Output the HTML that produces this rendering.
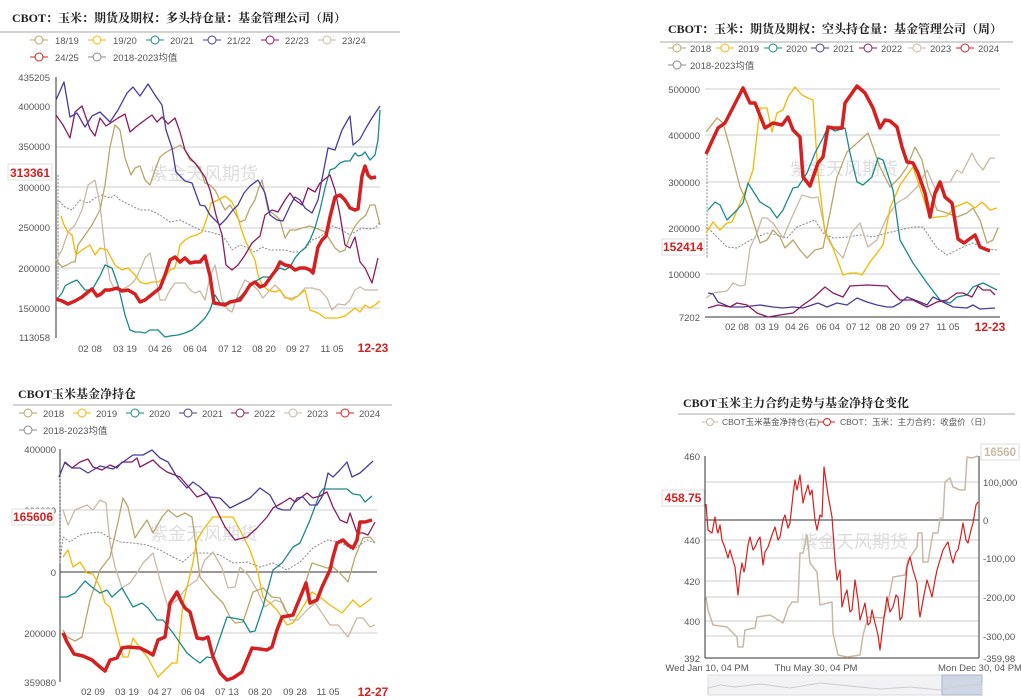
<!DOCTYPE html>
<html><head><meta charset="utf-8"><style>
html,body{margin:0;padding:0;background:#fff;}
svg{display:block;font-family:"Liberation Sans","Noto Sans CJK SC",sans-serif;}
.t{font-family:"Liberation Serif","Noto Serif CJK SC",serif;font-weight:bold;font-size:12px;fill:#222;}
.ax{font-size:9.5px;fill:#555;}
.lg{font-size:9.5px;fill:#555;}
.g{stroke:#ccc;stroke-width:1;}
.wm{font-size:18px;fill:#ddd;}
polyline{fill:none;stroke-linejoin:round;}
</style></head><body>
<svg width="1021" height="700" viewBox="0 0 1021 700">
<!-- ================= Chart 1 ================= -->
<text x="12" y="22" class="t">CBOT：玉米：期货及期权：多头持仓量：基金管理公司（周）</text>
<line x1="0" y1="32" x2="400" y2="32" stroke="#aaa"/>
<g class="lg">
<line x1="30" y1="40" x2="48" y2="40" stroke="#b8a66a"/><circle cx="39" cy="40" r="4" fill="#fff" stroke="#b8a66a"/><text x="55" y="44">18/19</text>
<line x1="88" y1="40" x2="106" y2="40" stroke="#f5b800"/><circle cx="97" cy="40" r="4" fill="#fff" stroke="#f5b800"/><text x="113" y="44">19/20</text>
<line x1="146" y1="40" x2="164" y2="40" stroke="#1a8a8a"/><circle cx="155" cy="40" r="4" fill="#fff" stroke="#1a8a8a"/><text x="170" y="44">20/21</text>
<line x1="203" y1="40" x2="221" y2="40" stroke="#4b3a9e"/><circle cx="212" cy="40" r="4" fill="#fff" stroke="#4b3a9e"/><text x="227" y="44">21/22</text>
<line x1="261" y1="40" x2="279" y2="40" stroke="#8b1a5e"/><circle cx="270" cy="40" r="4" fill="#fff" stroke="#8b1a5e"/><text x="285" y="44">22/23</text>
<line x1="318" y1="40" x2="336" y2="40" stroke="#c8b9a6"/><circle cx="327" cy="40" r="4" fill="#fff" stroke="#c8b9a6"/><text x="342" y="44">23/24</text>
<line x1="30" y1="57" x2="48" y2="57" stroke="#d42020"/><circle cx="39" cy="57" r="4" fill="#fff" stroke="#d42020"/><text x="55" y="61">24/25</text>
<line x1="88" y1="57" x2="106" y2="57" stroke="#888"/><circle cx="97" cy="57" r="4" fill="#fff" stroke="#888"/><text x="113" y="61">2018-2023均值</text>
</g>
<g class="g"><line x1="56" y1="147" x2="380" y2="147"/><line x1="56" y1="187" x2="380" y2="187"/><line x1="56" y1="228" x2="380" y2="228"/><line x1="56" y1="268" x2="380" y2="268"/><line x1="56" y1="308" x2="380" y2="308"/></g>
<line x1="56" y1="77" x2="56" y2="338" stroke="#333"/>
<g class="ax" text-anchor="end"><text x="50" y="81">435205</text><text x="50" y="110">400000</text><text x="50" y="150">350000</text><text x="50" y="191">300000</text><text x="50" y="231">250000</text><text x="50" y="272">200000</text><text x="50" y="312">150000</text><text x="50" y="341">113058</text></g>
<g class="ax" text-anchor="middle"><text x="90" y="352">02 08</text><text x="125" y="352">03 19</text><text x="160" y="352">04 26</text><text x="195" y="352">06 04</text><text x="230" y="352">07 12</text><text x="264" y="352">08 20</text><text x="298" y="352">09 27</text><text x="332" y="352">11 05</text></g>
<text x="373" y="352" text-anchor="middle" font-size="12" font-weight="bold" fill="#d42020">12-23</text>
<text x="150" y="180" class="wm">紫金天风期货</text>
<polyline stroke="#888" stroke-width="1" stroke-dasharray="2,1.5" points="58,175 58,290 58,200 65,207 72,210 80,200 88,203 95,198 102,195 110,198 115,195 120,200 130,205 140,210 150,210 160,215 170,222 180,220 190,225 200,230 210,232 220,235 226,240 232,250 240,245 248,248 255,252 262,247 270,250 278,250 285,250 292,252 300,252 306,248 312,240 318,238 325,233 332,226 338,228 345,232 350,235 355,232 362,228 370,229 375,228 380,222"/>
<polyline stroke="#c8b9a6" stroke-width="1.3" points="56,260 62,250 68,232 75,225 82,210 88,185 95,180 100,205 105,250 110,280 115,290 120,290 125,288 130,285 135,280 140,270 145,258 150,253 155,275 160,300 165,300 170,290 175,283 180,283 185,283 190,290 195,293 200,291 205,300 210,277 215,265 222,300 228,310 232,312 236,300 240,290 245,280 250,283 258,290 263,298 270,290 275,285 280,290 285,298 292,298 298,296 305,288 312,288 320,290 327,298 332,310 338,304 345,305 350,300 355,290 360,287 365,290 372,290 378,290"/>
<polyline stroke="#b8a66a" stroke-width="1.3" points="56,260 62,267 67,265 72,262 75,262 78,245 85,235 92,225 100,210 105,185 110,147 115,125 120,130 125,158 131,175 135,168 140,166 145,180 150,185 155,170 160,157 165,153 170,150 175,148 180,145 185,150 190,160 195,163 200,168 205,183 210,185 215,190 220,200 225,210 230,205 235,213 240,222 245,220 250,208 255,200 258,190 262,180 268,210 275,215 280,220 285,238 290,230 296,230 302,228 310,226 318,229 325,232 330,240 335,248 340,252 345,250 350,236 355,226 360,220 366,215 370,205 375,205 380,225"/>
<polyline stroke="#f5b800" stroke-width="1.3" points="61,216 64,225 68,232 72,235 76,255 82,250 90,245 95,255 100,248 107,250 115,265 122,270 128,268 135,275 140,282 146,284 152,282 158,282 165,277 170,270 175,268 180,245 185,240 190,237 197,235 202,232 207,218 211,203 218,200 225,196 232,202 236,210 240,225 245,240 250,250 255,260 258,275 262,285 268,290 275,292 280,290 285,297 292,300 298,296 305,290 310,310 318,313 325,318 330,318 338,318 345,316 350,312 355,308 360,312 365,305 370,308 375,305 380,301"/>
<polyline stroke="#1a8a8a" stroke-width="1.3" points="56,300 62,293 65,286 70,283 77,280 85,290 92,290 100,276 105,265 112,268 118,285 122,302 125,315 130,330 135,332 140,332 145,333 150,330 158,330 165,337 170,336 178,335 185,333 192,330 198,325 205,318 210,310 215,295 220,303 230,303 235,300 240,297 245,292 250,285 256,281 263,277 270,277 275,272 280,268 285,270 290,267 295,258 300,252 305,248 310,240 315,228 320,210 325,188 330,170 335,168 340,163 345,161 350,161 355,153 358,156 362,155 365,152 370,160 375,155 378,140 380,110"/>
<polyline stroke="#8b1a5e" stroke-width="1.3" points="56,115 63,125 70,138 75,112 82,106 90,129 95,136 100,118 106,126 112,122 118,118 125,114 130,132 137,126 145,120 152,115 157,122 162,117 168,124 175,118 180,132 185,150 190,158 195,163 200,170 205,177 210,190 216,215 222,235 226,265 232,270 238,265 245,255 252,243 260,236 265,215 272,210 278,212 285,200 290,193 295,200 302,205 308,188 315,192 320,183 330,175 335,190 340,215 345,245 350,248 355,237 360,262 365,268 372,283 378,258"/>
<polyline stroke="#4b3a9e" stroke-width="1.3" points="56,100 64,82 70,117 77,113 85,127 92,116 100,112 110,122 118,110 127,93 133,87 140,96 148,84 155,95 162,105 166,130 172,148 176,172 180,176 185,181 192,183 200,205 205,206 210,215 220,225 226,219 232,211 238,205 244,193 250,186 258,180 265,193 270,215 277,220 283,221 290,206 295,197 300,200 305,208 312,213 318,200 328,148 335,150 342,130 350,116 353,145 360,139 366,128 372,118 380,106"/>
<polyline stroke="#d42020" stroke-width="3.5" points="56,299 62,301 68,304 75,301 82,297 88,292 92,289 97,296 101,294 105,290 110,290 117,288 122,291 128,290 135,294 140,302 145,300 150,296 155,292 160,288 165,275 170,260 175,257 180,262 185,258 190,263 195,262 200,262 205,256 210,276 214,303 220,304 225,305 230,302 235,301 240,300 245,293 250,285 255,282 260,287 265,285 270,278 276,270 280,262 285,265 290,266 295,270 300,268 305,268 310,270 313,273 318,247 322,240 326,236 330,217 335,197 340,195 345,200 350,208 355,210 358,209 362,176 365,166 368,175 371,178 376,177"/>
<rect x="8" y="164" width="44" height="16" fill="#fff" stroke="#ddd"/>
<text x="30" y="177" text-anchor="middle" font-size="12" font-weight="bold" fill="#d42020">313361</text>

<!-- ================= Chart 2 ================= -->
<text x="668" y="33" class="t">CBOT：玉米：期货及期权：空头持仓量：基金管理公司（周）</text>
<line x1="660" y1="42" x2="1013" y2="42" stroke="#aaa"/>
<g class="lg">
<line x1="668" y1="48" x2="686" y2="48" stroke="#b8a66a"/><circle cx="677" cy="48" r="4" fill="#fff" stroke="#b8a66a"/><text x="690" y="52">2018</text>
<line x1="716" y1="48" x2="734" y2="48" stroke="#f5b800"/><circle cx="725" cy="48" r="4" fill="#fff" stroke="#f5b800"/><text x="738" y="52">2019</text>
<line x1="764" y1="48" x2="782" y2="48" stroke="#1a8a8a"/><circle cx="773" cy="48" r="4" fill="#fff" stroke="#1a8a8a"/><text x="786" y="52">2020</text>
<line x1="811" y1="48" x2="829" y2="48" stroke="#4b3a9e"/><circle cx="820" cy="48" r="4" fill="#fff" stroke="#4b3a9e"/><text x="833" y="52">2021</text>
<line x1="859" y1="48" x2="877" y2="48" stroke="#8b1a5e"/><circle cx="868" cy="48" r="4" fill="#fff" stroke="#8b1a5e"/><text x="881" y="52">2022</text>
<line x1="908" y1="48" x2="926" y2="48" stroke="#c8b9a6"/><circle cx="917" cy="48" r="4" fill="#fff" stroke="#c8b9a6"/><text x="930" y="52">2023</text>
<line x1="956" y1="48" x2="974" y2="48" stroke="#d42020"/><circle cx="965" cy="48" r="4" fill="#fff" stroke="#d42020"/><text x="978" y="52">2024</text>
<line x1="668" y1="65" x2="686" y2="65" stroke="#888"/><circle cx="677" cy="65" r="4" fill="#fff" stroke="#888"/><text x="690" y="69">2018-2023均值</text>
</g>
<g class="g"><line x1="705" y1="89" x2="1000" y2="89"/><line x1="705" y1="135" x2="1000" y2="135"/><line x1="705" y1="182" x2="1000" y2="182"/><line x1="705" y1="228" x2="1000" y2="228"/><line x1="705" y1="274" x2="1000" y2="274"/></g>
<line x1="705" y1="317" x2="1000" y2="317" stroke="#333"/>
<g class="ax" text-anchor="end"><text x="700" y="93">500000</text><text x="700" y="139">400000</text><text x="700" y="186">300000</text><text x="700" y="232">200000</text><text x="700" y="278">100000</text><text x="700" y="321">7202</text></g>
<g class="ax" text-anchor="middle"><text x="737" y="330">02 08</text><text x="767" y="330">03 19</text><text x="797" y="330">04 26</text><text x="828" y="330">06 04</text><text x="858" y="330">07 12</text><text x="888" y="330">08 20</text><text x="918" y="330">09 27</text><text x="948" y="330">11 05</text></g>
<text x="990" y="331" text-anchor="middle" font-size="12" font-weight="bold" fill="#d42020">12-23</text>
<text x="790" y="175" class="wm">紫金天风期货</text>
<polyline stroke="#888" stroke-width="1" stroke-dasharray="2,1.5" points="707,154 707,258 707,227 718,238 727,247 737,248 747,242 757,237 767,233 777,235 787,238 797,227 807,223 815,220 823,233 833,238 847,237 860,235 873,237 887,233 900,230 913,227 923,227 937,248 947,255 953,252 963,247 973,243 983,248 997,250"/>
<polyline stroke="#c8b9a6" stroke-width="1.3" points="706,298 713,293 727,291 733,283 740,286 745,285 750,248 757,233 762,218 767,218 773,223 783,238 792,217 802,195 812,198 818,197 825,230 833,247 843,258 852,232 860,223 868,247 877,240 887,217 897,203 907,197 917,187 927,170 937,193 943,182 950,182 957,170 962,173 972,153 977,163 983,170 990,158 995,158"/>
<polyline stroke="#b8a66a" stroke-width="1.3" points="706,132 717,118 723,123 730,148 740,187 748,205 755,227 760,243 767,240 773,230 780,237 785,248 793,240 800,250 807,258 815,250 823,248 830,213 837,177 847,152 857,143 868,133 873,147 880,167 890,187 900,177 907,167 915,147 922,160 928,187 937,210 947,213 957,217 967,213 973,208 980,220 987,243 993,240 998,228"/>
<polyline stroke="#f5b800" stroke-width="1.3" points="706,233 713,222 720,230 727,223 732,222 747,187 753,170 760,108 767,108 772,132 777,113 783,110 788,97 795,87 802,95 808,98 813,100 818,173 825,233 833,248 843,275 850,273 857,273 862,275 870,262 877,253 883,245 890,208 900,185 913,167 923,197 930,218 937,217 947,216 955,207 967,202 975,208 982,202 990,210 997,208"/>
<polyline stroke="#1a8a8a" stroke-width="1.3" points="708,210 715,202 720,205 727,220 737,210 743,203 748,183 760,202 770,208 777,218 783,210 793,188 798,187 807,173 815,153 823,138 828,127 835,131 845,128 850,153 857,182 863,185 872,177 878,158 883,160 893,190 900,240 913,263 927,283 940,300 950,303 957,297 967,295 973,287 983,283 997,290"/>
<polyline stroke="#4b3a9e" stroke-width="1.3" points="708,293 713,294 718,302 730,307 743,307 760,305 773,307 783,308 793,307 803,308 818,303 827,307 837,303 847,305 857,298 867,302 877,305 887,307 893,307 900,303 907,297 920,302 927,305 933,297 943,302 953,307 967,308 973,305 980,309 995,308"/>
<polyline stroke="#8b1a5e" stroke-width="1.3" points="708,308 718,305 730,307 737,303 747,305 757,313 768,317 780,315 793,313 803,305 813,298 825,287 833,293 843,297 850,286 867,285 887,286 893,293 900,300 913,300 927,307 937,302 947,300 957,293 963,293 972,297 978,286 983,290 990,290 995,295"/>
<polyline stroke="#d42020" stroke-width="3.5" points="706,154 718,128 725,123 743,88 750,103 755,103 765,128 773,123 782,125 788,117 793,130 800,137 803,177 810,186 818,163 823,157 828,127 833,128 842,128 845,103 857,86 865,93 873,108 880,128 885,120 890,121 897,127 902,147 907,162 913,163 918,173 925,193 930,217 935,193 940,182 945,197 952,203 958,239 964,243 975,235 980,247 990,251"/>
<rect x="662" y="239" width="42" height="16" fill="#fff" stroke="#ddd"/>
<text x="683" y="251" text-anchor="middle" font-size="12" font-weight="bold" fill="#d42020">152414</text>

<!-- ================= Chart 3 ================= -->
<text x="18" y="398" class="t">CBOT玉米基金净持仓</text>
<line x1="13" y1="405" x2="392" y2="405" stroke="#aaa"/>
<g class="lg">
<line x1="19" y1="413" x2="37" y2="413" stroke="#b8a66a"/><circle cx="28" cy="413" r="4" fill="#fff" stroke="#b8a66a"/><text x="43" y="417">2018</text>
<line x1="73" y1="413" x2="91" y2="413" stroke="#f5b800"/><circle cx="82" cy="413" r="4" fill="#fff" stroke="#f5b800"/><text x="96" y="417">2019</text>
<line x1="126" y1="413" x2="144" y2="413" stroke="#1a8a8a"/><circle cx="135" cy="413" r="4" fill="#fff" stroke="#1a8a8a"/><text x="149" y="417">2020</text>
<line x1="179" y1="413" x2="197" y2="413" stroke="#4b3a9e"/><circle cx="188" cy="413" r="4" fill="#fff" stroke="#4b3a9e"/><text x="202" y="417">2021</text>
<line x1="231" y1="413" x2="249" y2="413" stroke="#8b1a5e"/><circle cx="240" cy="413" r="4" fill="#fff" stroke="#8b1a5e"/><text x="254" y="417">2022</text>
<line x1="284" y1="413" x2="302" y2="413" stroke="#c8b9a6"/><circle cx="293" cy="413" r="4" fill="#fff" stroke="#c8b9a6"/><text x="307" y="417">2023</text>
<line x1="336" y1="413" x2="354" y2="413" stroke="#d42020"/><circle cx="345" cy="413" r="4" fill="#fff" stroke="#d42020"/><text x="359" y="417">2024</text>
<line x1="19" y1="430" x2="37" y2="430" stroke="#888"/><circle cx="28" cy="430" r="4" fill="#fff" stroke="#888"/><text x="43" y="434">2018-2023均值</text>
</g>
<g class="g"><line x1="60" y1="510" x2="377" y2="510"/><line x1="60" y1="633" x2="377" y2="633"/></g>
<line x1="60" y1="572" x2="377" y2="572" stroke="#333"/>
<line x1="60" y1="449" x2="60" y2="682" stroke="#333"/>
<g class="ax" text-anchor="end"><text x="56" y="453">400000</text><text x="56" y="514">200000</text><text x="56" y="576">0</text><text x="56" y="637">200000</text><text x="56" y="686">359080</text></g>
<g class="ax" text-anchor="middle"><text x="93" y="695">02 09</text><text x="127" y="695">03 19</text><text x="160" y="695">04 27</text><text x="193" y="695">06 04</text><text x="227" y="695">07 13</text><text x="260" y="695">08 20</text><text x="295" y="695">09 28</text><text x="328" y="695">11 05</text></g>
<text x="373" y="696" text-anchor="middle" font-size="12" font-weight="bold" fill="#d42020">12-27</text>
<text x="150" y="540" class="wm">紫金天风期货</text>
<polyline stroke="#888" stroke-width="1" stroke-dasharray="2,1.5" points="60,477 60,563 63,537 70,542 80,535 90,533 100,532 110,538 120,542 133,543 147,545 160,550 173,557 183,562 193,553 207,553 220,555 233,563 247,562 260,567 273,563 287,570 300,562 313,548 327,540 340,542 353,550 367,540 375,543"/>
<polyline stroke="#c8b9a6" stroke-width="1.3" points="63,510 68,525 75,510 87,505 93,510 100,500 106,503 110,543 115,567 122,588 130,583 137,573 143,563 153,553 160,580 168,607 177,600 187,587 197,580 205,560 213,552 222,568 228,588 235,587 240,567 248,575 257,590 265,607 275,600 283,603 290,620 298,620 307,610 315,603 322,613 330,625 338,625 348,637 357,618 363,618 370,627 375,625"/>
<polyline stroke="#b8a66a" stroke-width="1.3" points="63,630 67,637 75,641 82,637 90,600 100,570 110,557 118,522 123,498 128,507 135,538 140,530 147,520 153,533 162,517 168,510 177,517 185,513 192,517 200,577 213,593 223,603 230,617 235,623 243,622 253,592 263,588 272,597 280,598 285,610 290,617 297,607 303,590 312,563 318,565 327,568 333,567 340,573 348,582 355,557 363,538 370,537 375,543"/>
<polyline stroke="#f5b800" stroke-width="1.3" points="63,557 68,550 73,567 80,562 87,573 93,574 100,587 105,603 110,607 115,627 123,657 128,657 133,638 140,648 148,658 158,677 165,670 172,663 177,663 183,603 192,567 197,540 203,530 213,517 227,517 233,517 240,530 250,550 258,573 263,597 270,603 277,610 287,625 293,623 303,607 312,592 320,597 330,605 342,613 353,600 360,607 372,598"/>
<polyline stroke="#1a8a8a" stroke-width="1.3" points="59,597 67,597 75,593 85,581 93,588 100,593 107,590 112,597 122,588 133,607 142,603 148,608 157,620 163,620 173,633 187,653 193,658 200,663 207,657 213,658 227,617 233,618 243,620 250,632 255,631 263,607 273,570 282,563 293,547 300,543 310,520 320,493 323,489 347,489 353,494 360,495 365,502 372,496"/>
<polyline stroke="#8b1a5e" stroke-width="1.3" points="65,463 72,468 80,462 88,459 93,467 102,470 110,465 117,468 122,462 132,462 137,458 140,467 153,460 160,467 167,472 180,477 187,485 197,497 207,493 215,507 225,527 235,540 247,537 257,528 267,517 273,508 282,503 290,498 295,502 307,493 313,498 320,496 327,492 333,507 340,520 347,523 350,513 357,533 363,533 368,535 375,522"/>
<polyline stroke="#4b3a9e" stroke-width="1.3" points="59,477 65,462 72,468 80,468 88,473 100,466 113,469 123,462 133,455 143,455 152,450 160,458 168,462 177,477 187,488 193,482 200,487 210,497 220,498 230,508 240,503 250,498 260,488 270,495 277,508 283,510 290,510 297,498 303,497 310,505 317,505 323,495 328,473 333,477 340,470 347,462 352,477 360,473 373,461"/>
<polyline stroke="#d42020" stroke-width="3.5" points="63,633 67,642 74,654 83,656 92,660 100,667 105,671 110,660 117,658 122,648 128,647 140,648 148,652 153,655 158,640 165,637 170,603 177,592 182,603 185,608 190,612 197,638 203,639 208,637 213,657 220,673 227,680 233,678 242,672 247,660 252,648 260,649 267,650 272,647 277,630 282,617 293,615 297,605 302,593 306,583 310,603 317,600 322,587 330,570 333,557 337,543 343,540 348,545 353,548 357,540 360,522 365,522 372,520"/>
<rect x="12" y="509" width="42" height="16" fill="#fff" stroke="#ddd"/>
<text x="33" y="521" text-anchor="middle" font-size="12" font-weight="bold" fill="#d42020">165606</text>

<!-- ================= Chart 4 ================= -->
<text x="683" y="407" class="t">CBOT玉米主力合约走势与基金净持仓变化</text>
<line x1="678" y1="414" x2="1015" y2="414" stroke="#aaa"/>
<g class="lg" font-size="8.5">
<line x1="702" y1="422" x2="718" y2="422" stroke="#c8b9a6"/><circle cx="710" cy="422" r="3.5" fill="#fff" stroke="#c8b9a6"/><text x="722" y="425" font-size="8.5">CBOT玉米基金净持仓(右)</text>
<line x1="819" y1="422" x2="835" y2="422" stroke="#d42020"/><circle cx="827" cy="422" r="3.5" fill="#fff" stroke="#d42020"/><text x="840" y="425" font-size="8.5">CBOT：玉米：主力合约：收盘价（日）</text>
</g>
<g class="g"><line x1="705" y1="482" x2="979" y2="482"/><line x1="705" y1="540" x2="979" y2="540"/><line x1="705" y1="558" x2="979" y2="558"/><line x1="705" y1="581" x2="979" y2="581"/><line x1="705" y1="597" x2="979" y2="597"/><line x1="705" y1="621" x2="979" y2="621"/><line x1="705" y1="636" x2="979" y2="636"/></g>
<line x1="705" y1="520" x2="979" y2="520" stroke="#333"/>
<line x1="705" y1="456" x2="705" y2="658" stroke="#333"/>
<line x1="979" y1="456" x2="979" y2="658" stroke="#333"/>
<line x1="705" y1="658" x2="979" y2="658" stroke="#333"/>
<g class="ax" text-anchor="end" font-size="9"><text x="700" y="460">460</text><text x="700" y="544">440</text><text x="700" y="585">420</text><text x="700" y="625">400</text><text x="700" y="662">392</text></g>
<g class="ax" font-size="9"><text x="983" y="486">100,000</text><text x="983" y="524">0</text><text x="983" y="562">-100,00</text><text x="983" y="601">-200,00</text><text x="983" y="640">-300,00</text><text x="983" y="662">-359,98</text></g>
<g class="ax" font-size="9" text-anchor="middle"><text x="707" y="671">Wed Jan 10, 04 PM</text><text x="816" y="671">Thu May 30, 04 PM</text><text x="980" y="671">Mon Dec 30, 04 PM</text></g>
<rect x="708" y="675" width="274" height="20" fill="#f2f2f4" stroke="#ddd"/>
<rect x="942" y="675" width="40" height="20" fill="#cfd7e6" stroke="#a8b4cc"/>
<polyline stroke="#ccc" fill="#e5e6ea" points="708,695 708,688 720,685 735,687 760,684 790,688 820,683 850,686 880,689 910,687 940,690 960,686 982,684 982,695"/>
<text x="800" y="548" class="wm">紫金天风期货</text>
<polyline stroke="#c8b9a6" stroke-width="1.5" points="706,597 708,610 713,625 727,627 737,637 738,647 743,647 745,630 755,628 757,617 770,615 783,623 788,608 792,602 798,602 800,553 803,553 807,535 810,563 817,572 820,605 832,602 833,633 838,655 847,657 860,655 863,635 868,617 883,618 887,608 893,577 905,575 908,560 917,547 918,533 922,533 923,562 928,562 930,550 933,533 938,533 940,518 943,518 945,482 950,478 953,487 960,490 965,490 967,457 972,458 978,456"/>
<polyline stroke="#d42020" stroke-width="1.2" points="706,504 708,530 712,533 715,517 717,530 718,533 720,525 722,540 725,548 728,558 730,550 732,557 735,567 738,595 740,575 742,563 744,572 745,568 748,545 750,537 753,550 755,547 758,540 760,537 763,565 765,552 768,547 772,535 775,527 778,540 780,537 783,520 785,515 788,528 790,523 793,495 795,480 797,490 800,475 803,503 805,495 808,485 810,495 812,490 815,520 817,530 820,515 822,517 824,467 828,495 832,517 835,560 837,580 840,570 842,607 845,595 847,590 850,612 852,610 855,580 858,600 860,620 863,610 865,603 868,625 870,623 872,610 875,623 878,635 880,650 883,625 887,597 890,612 893,607 896,595 898,597 900,620 902,617 905,590 907,567 910,557 913,570 917,583 919,610 920,617 924,595 927,580 930,590 932,597 935,580 937,570 940,560 943,550 946,545 948,542 951,556 953,563 956,552 958,550 961,535 963,523 966,540 968,543 971,530 973,523 976,505 978,502"/>
<rect x="662" y="490" width="42" height="16" fill="#fff" stroke="#ddd"/>
<text x="683" y="502" text-anchor="middle" font-size="12" font-weight="bold" fill="#d42020">458.75</text>
<rect x="981" y="444" width="38" height="16" fill="#fff" stroke="#ddd"/>
<text x="1000" y="456" text-anchor="middle" font-size="11.5" font-weight="bold" fill="#c8b9a6">16560</text>
</svg>
</body></html>
